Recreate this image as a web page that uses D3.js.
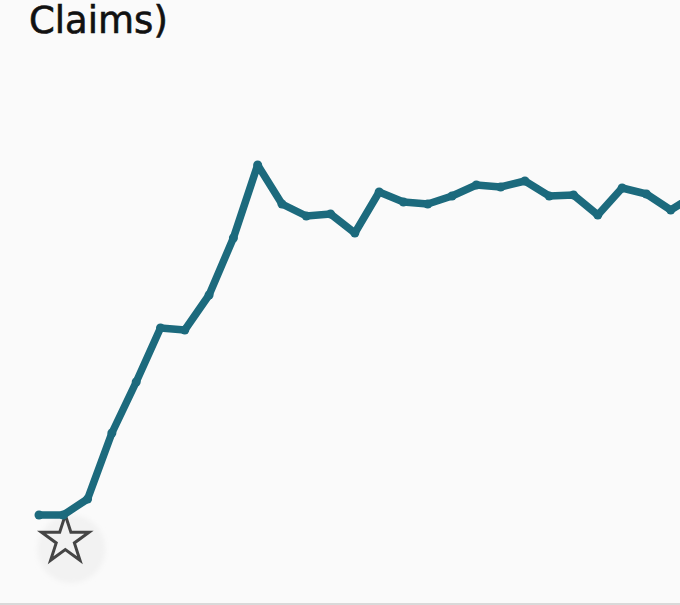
<!DOCTYPE html>
<html>
<head>
<meta charset="utf-8">
<script src="https://cdn.jsdelivr.net/npm/d3@7"></script>
<style>
  html, body { margin: 0; padding: 0; background: #fafafa; }
  svg { display: block; }
</style>
</head>
<body>
<svg id="chart"></svg>
<script>
(function() {
  // Weekly series (week index and value)
  const weeks = d3.range(1, 29);
  const claims = [50, 50, 66, 132, 183, 237, 235, 270, 327, 400, 361, 349, 351, 332,
                  373, 363, 361, 369, 380, 378, 384, 369, 370, 350, 377, 371, 355, 370];
  const titleText = 'Claims)';

  const width = 680, height = 605;
  const svg = d3.select('#chart')
    .attr('width', width)
    .attr('height', height);

  const defs = svg.append('defs');
  defs.append('filter')
    .attr('id', 'soft')
    .attr('x', '-50%').attr('y', '-50%').attr('width', '200%').attr('height', '200%')
    .append('feGaussianBlur')
    .attr('stdDeviation', 2.5);

  svg.append('rect')
    .attr('width', width).attr('height', height)
    .attr('fill', '#fafafa');

  // bottom border
  svg.append('rect')
    .attr('x', 0).attr('y', 603)
    .attr('width', width).attr('height', 2)
    .attr('fill', '#d9d9d9');

  // title (tail end of a wrapped heading)
  svg.append('text')
    .attr('x', 29).attr('y', 33)
    .attr('font-family', '"DejaVu Sans", sans-serif')
    .attr('font-size', 37)
    .attr('fill', '#111')
    .attr('stroke', '#111')
    .attr('stroke-width', 0.6)
    .text(titleText);

  const x = d3.scalePoint()
    .domain(weeks)
    .range([39, 695]);

  const y = d3.scaleLinear()
    .domain([0, 500])
    .range([565, 65]);

  const data = weeks.map((w, i) => ({ week: w, value: claims[i] }));

  // star marker under the start of the series
  const sx = x(weeks[1]) + 2, sy = y(claims[1]) + 25;
  svg.append('circle')
    .attr('cx', sx + 6).attr('cy', sy + 9)
    .attr('r', 34)
    .attr('fill', '#f2f2f2')
    .attr('filter', 'url(#soft)');
  const star = d3.symbol().type(d3.symbolStar).size(700);
  svg.append('path')
    .attr('d', star())
    .attr('transform', `translate(${sx},${sy})`)
    .attr('fill', 'none')
    .attr('stroke', '#454545')
    .attr('stroke-width', 3)
    .attr('stroke-linejoin', 'miter');

  const line = d3.line()
    .x(d => x(d.week))
    .y(d => y(d.value));

  svg.append('path')
    .datum(data)
    .attr('d', line)
    .attr('fill', 'none')
    .attr('stroke', '#1c6a7d')
    .attr('stroke-width', 7.5)
    .attr('stroke-linejoin', 'round')
    .attr('stroke-linecap', 'round');

  svg.selectAll('circle.dot')
    .data(data)
    .join('circle')
    .attr('class', 'dot')
    .attr('cx', d => x(d.week))
    .attr('cy', d => y(d.value))
    .attr('r', 4.5)
    .attr('fill', '#1c6a7d');
})();
</script>
</body>
</html>
